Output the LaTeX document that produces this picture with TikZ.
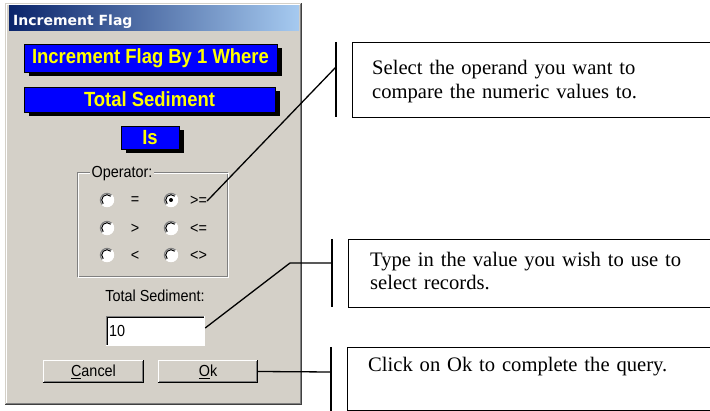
\documentclass[tikz,border=0pt]{standalone}
\usepackage{fontspec}
\setmainfont{Liberation Serif}
\newfontfamily\uifont{Liberation Sans}[FakeStretch=0.9]
\newfontfamily\titlefont{DejaVu Sans}
\usetikzlibrary{calc,shadows}

\definecolor{dlgbg}{HTML}{D4D0C8}
\definecolor{edgegray}{HTML}{808080}
\definecolor{edgedark}{HTML}{404040}
\definecolor{titleL}{HTML}{0A246A}
\definecolor{titleR}{HTML}{A6CAF0}
\definecolor{qblue}{HTML}{0000FF}
\definecolor{qyellow}{HTML}{FFFF00}

\tikzset{
  qlabel/.style={fill=qblue, draw=black, line width=0.8pt, text=qyellow,
    font=\uifont\bfseries\fontsize{20.5}{23}\selectfont, inner sep=0pt,
    general shadow={fill=black, shadow xshift=5pt, shadow yshift=-4pt}},
  uitext/.style={font=\uifont\fontsize{16}{18}\selectfont, inner sep=0pt},
  radio/.style={circle, fill=white, minimum size=14pt, inner sep=0pt},
  editbox/.style={fill=white, minimum height=29pt, text width=93pt, align=left,
    inner xsep=3pt, inner ysep=0pt, font=\uifont\fontsize{16}{18}\selectfont},
  button/.style={fill=dlgbg, minimum width=101pt, minimum height=23pt, inner sep=0pt,
    font=\uifont\fontsize{16}{18}\selectfont},
  callout/.style={draw=black, line width=1.3pt, inner sep=0pt, anchor=north west},
  note/.style={font=\fontsize{20.6}{23.5}\selectfont, align=left, text width=335pt,
    inner sep=0pt, anchor=base west},
  lead/.style={draw=black, line width=1.3pt},
}

% a classic sunken radio button
\newcommand\radiobtn[3]{%
  \node[radio] (#1) at (#2,#3) {};
  \draw[edgegray, line width=1.2pt] ($(#1.center)+(135:6.6)$) arc[start angle=135, end angle=315, radius=6.6];
  \draw[white, line width=1.2pt] ($(#1.center)+(315:6.6)$) arc[start angle=315, end angle=495, radius=6.6];
  \draw[black, line width=1pt] ($(#1.center)+(135:5.3)$) arc[start angle=135, end angle=315, radius=5.3];
}
% raised 3D edge around a named node
\newcommand\raisededge[1]{%
  \draw[white, line width=1pt] ([xshift=0.5pt]#1.south west) -- ([xshift=0.5pt,yshift=-0.5pt]#1.north west) -- ([yshift=-0.5pt]#1.north east);
  \draw[black, line width=1pt] ([yshift=0.5pt]#1.south west) -- ([xshift=-0.5pt,yshift=0.5pt]#1.south east) -- ([xshift=-0.5pt]#1.north east);
  \draw[edgegray, line width=1pt] ([xshift=1pt,yshift=1.5pt]#1.south west) -- ([xshift=-1.5pt,yshift=1.5pt]#1.south east) -- ([xshift=-1.5pt,yshift=-1pt]#1.north east);
}

\begin{document}
\begin{tikzpicture}[x=1pt, y=-1pt]
\clip (0,0) rectangle (710,411);
\fill[white] (0,0) rectangle (710,411);

% dialog window
\fill[dlgbg] (5,3) rectangle (302,405);
\draw[white, line width=1pt] (6.5,403) -- (6.5,4.5) -- (300,4.5);
\draw[edgedark, line width=1pt] (5,404.5) -- (301.5,404.5) -- (301.5,3);
\draw[edgegray, line width=1pt] (6,403.5) -- (300.5,403.5) -- (300.5,4);
\shade[left color=titleL, right color=titleR] (9,6) rectangle (299,31);
\node[font=\titlefont\bfseries\fontsize{14}{17}\selectfont, text=white, inner sep=0pt, anchor=base west]
  (title) at (13,26) {Increment Flag};

% query labels
\node[qlabel, minimum width=253pt, minimum height=28pt] (lab1) at (150.5,58) {Increment Flag By 1 Where};
\node[qlabel, minimum width=251pt, minimum height=25pt] (lab2) at (149.5,99.5) {Total Sediment};
\node[qlabel, minimum width=58pt, minimum height=23pt] (lab3) at (150,137.5) {Is};

% operator group box
\draw[edgegray, line width=1pt] (77,173) rectangle (227,277);
\draw[white, line width=1pt] (78,174) rectangle (228,278);
\node[uitext, fill=dlgbg, inner xsep=2pt] (oplabel) at (122,174) {Operator:};

\radiobtn{r1}{107}{200}
\radiobtn{r2}{107}{228}
\radiobtn{r3}{107}{255}
\radiobtn{r4}{171}{200}
\radiobtn{r5}{171}{228}
\radiobtn{r6}{171}{255}
\fill[black] (r4.center) circle[radius=2];

\node[uitext] (eq) at (135,201) {=};
\node[uitext] (gt) at (135,229) {>};
\node[uitext] (lt) at (135,256) {<};
\node[uitext] (ge) at (198.5,201) {>=};
\node[uitext] (le) at (198.5,229) {<=};
\node[uitext] (ne) at (198.5,256) {<>};

% value entry
\node[uitext, anchor=base] (tslabel) at (155,302) {Total Sediment:};
\node[editbox] (val) at (155.5,331) {10};
\draw[edgegray, line width=1pt] ([xshift=0.5pt]val.south west) -- ([xshift=0.5pt,yshift=-0.5pt]val.north west) -- ([yshift=-0.5pt]val.north east);
\draw[black, line width=1pt] ([xshift=1.5pt,yshift=1pt]val.south west) -- ([xshift=1.5pt,yshift=-1.5pt]val.north west) -- ([xshift=-1pt,yshift=-1.5pt]val.north east);
\draw[white, line width=1pt] ([yshift=0.5pt]val.south west) -- ([xshift=-0.5pt,yshift=0.5pt]val.south east) -- ([xshift=-0.5pt]val.north east);

% buttons
\node[button] (cancel) at (93.5,371.5) {\underline{C}ancel};
\raisededge{cancel}
\node[button, minimum width=100pt] (ok) at (208,371.5) {\underline{O}k};
\raisededge{ok}

% callouts
\node[callout, minimum width=400pt, minimum height=75pt] (c1) at (352,42) {};
\node[callout, minimum width=400pt, minimum height=68pt] (c2) at (348,239) {};
\node[callout, minimum width=400pt, minimum height=63pt] (c3) at (347,347) {};

\node[note] (t1) at (372,75) {Select the operand you want to\\compare the numeric values to.};
\node[note] (t2) at (370,266.5) {Type in the value you wish to use to\\select records.};
\node[note] (t3) at (368,371.5) {Click on Ok to complete the query.};

\draw[lead] (336,42) -- (336,117);
\draw[lead] (332,239) -- (332,307);
\draw[lead] (331,347) -- (331,415);
\coordinate (k1) at (336,67);
\coordinate (bend2) at (290,263);
\coordinate (k2) at (332,263);
\coordinate (k3) at (331,372);

\draw[lead] (ge.east) -- (k1);
\draw[lead] ([yshift=3pt]val.east) -- (bend2) -- (k2);
\draw[lead] (ok.east) -- (k3);
\end{tikzpicture}
\end{document}
